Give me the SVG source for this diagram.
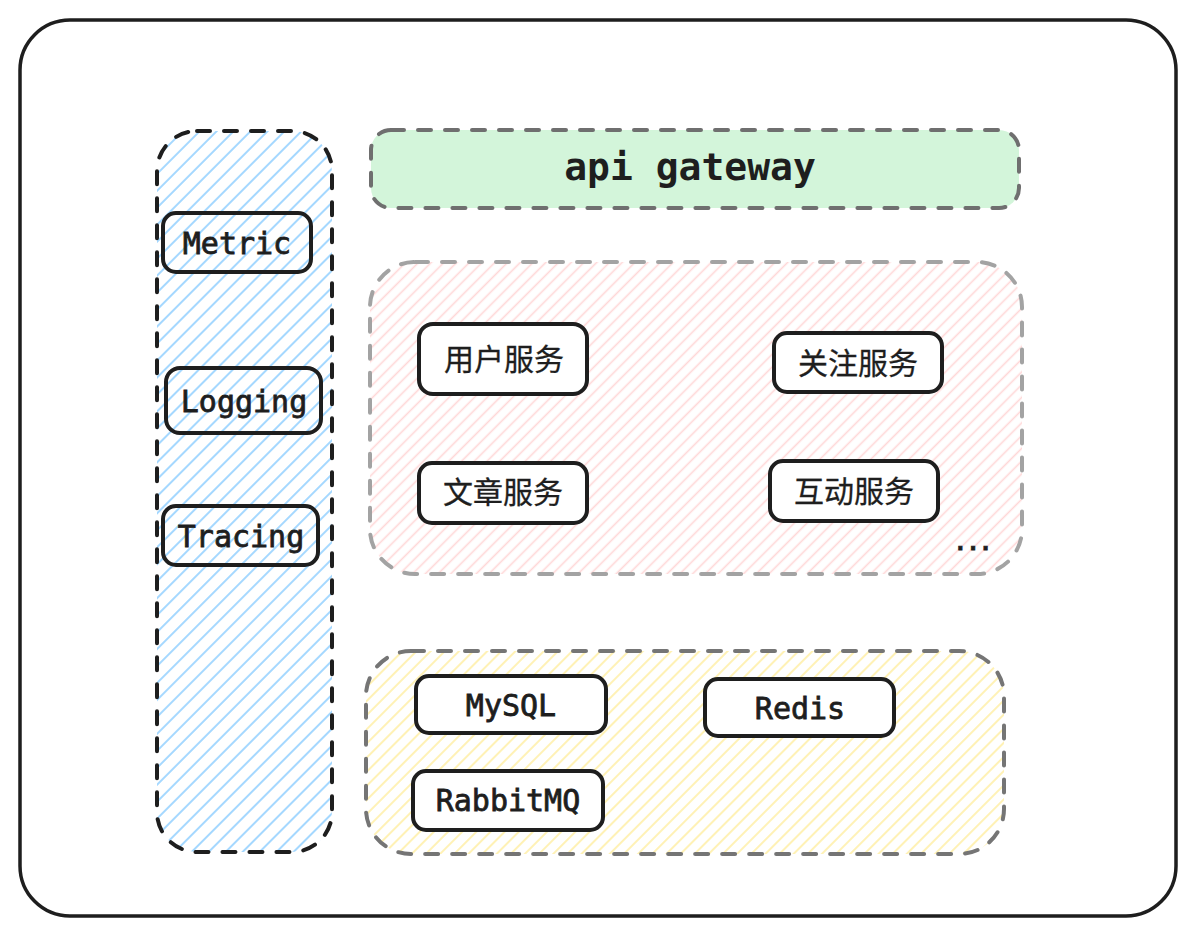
<svg xmlns="http://www.w3.org/2000/svg" width="1195" height="936" viewBox="0 0 1195 936">
<defs>
<pattern id="hBlue" patternUnits="userSpaceOnUse" width="12" height="12" patternTransform="rotate(45)"><line x1="6" y1="0" x2="6" y2="12" stroke="#a5d8ff" stroke-width="2"/></pattern>
<pattern id="hPink" patternUnits="userSpaceOnUse" width="9" height="9" patternTransform="rotate(45)"><line x1="4.5" y1="0" x2="4.5" y2="9" stroke="#ffc9c9" stroke-opacity="0.75" stroke-width="1.6"/></pattern>
<pattern id="hYellow" patternUnits="userSpaceOnUse" width="10" height="10" patternTransform="rotate(45)"><line x1="5" y1="0" x2="5" y2="10" stroke="#ffec99" stroke-opacity="0.8" stroke-width="1.8"/></pattern>
<style>
.frame{fill:#ffffff;stroke:#1e1e1e;stroke-width:3.5}
.cont{stroke-width:4;stroke-linecap:round;stroke-dasharray:13 14}
.box{fill:none;stroke:#1e1e1e;stroke-width:4}
.wbox{fill:#ffffff;stroke:#1e1e1e;stroke-width:4}
.mono{font-family:"DejaVu Sans Mono","Liberation Mono",monospace;font-size:30px;fill:#1e1e1e;stroke:#1e1e1e;stroke-width:0.8;text-anchor:middle}
.cjk{font-family:"Noto Sans CJK SC","Noto Sans",sans-serif;font-size:30px;fill:#1e1e1e;stroke:#1e1e1e;stroke-width:0.3;text-anchor:middle}
</style>
</defs>
<rect class="frame" x="20" y="20" width="1156" height="896" rx="50"/>
<g id="observability">
<rect x="157" y="131" width="175" height="721" rx="40" fill="url(#hBlue)" class="cont" stroke="#1e1e1e"/>
</g>
<g id="api-gateway">
<rect x="371" y="130" width="648" height="78" rx="20" fill="#d3f5da" class="cont" stroke="#6f6f6f"/>
<text x="690" y="180" class="mono" style="font-size:38px;font-weight:bold;stroke-width:0">api gateway</text>
</g>
<g id="services">
<rect x="370" y="262" width="652" height="312" rx="45" fill="url(#hPink)" class="cont" stroke="#a3a3a3"/>
<text x="973" y="550" class="mono" style="font-size:21px;font-weight:bold">...</text>
</g>
<g id="storage">
<rect x="366" y="651" width="638" height="203" rx="45" fill="url(#hYellow)" class="cont" stroke="#757575"/>
</g>
<g id="metric"><rect class="box" x="163" y="213" width="148" height="59" rx="13"/><text class="mono" x="237" y="254">Metric</text></g>
<g id="logging"><rect class="box" x="166" y="368" width="155" height="65" rx="14"/><text class="mono" x="244" y="412">Logging</text></g>
<g id="tracing"><rect class="box" x="163" y="506" width="155" height="59" rx="13"/><text class="mono" x="241" y="547">Tracing</text></g>
<g id="user-svc"><rect class="wbox" x="419" y="324" width="168" height="70" rx="14"/><text class="cjk" x="504" y="370">用户服务</text></g>
<g id="follow-svc"><rect class="wbox" x="774" y="333" width="168" height="59" rx="13"/><text class="cjk" x="858" y="374">关注服务</text></g>
<g id="article-svc"><rect class="wbox" x="419" y="463" width="168" height="60" rx="13"/><text class="cjk" x="503" y="503">文章服务</text></g>
<g id="interact-svc"><rect class="wbox" x="770" y="461" width="168" height="60" rx="13"/><text class="cjk" x="854" y="502">互动服务</text></g>
<g id="mysql"><rect class="wbox" x="416" y="676" width="190" height="57" rx="13"/><text class="mono" x="511" y="716">MySQL</text></g>
<g id="redis"><rect class="wbox" x="705" y="679" width="189" height="57" rx="13"/><text class="mono" x="800" y="719">Redis</text></g>
<g id="rabbitmq"><rect class="wbox" x="413" y="771" width="190" height="59" rx="13"/><text class="mono" x="508" y="811">RabbitMQ</text></g>
<g id="connectors"></g>
</svg>
